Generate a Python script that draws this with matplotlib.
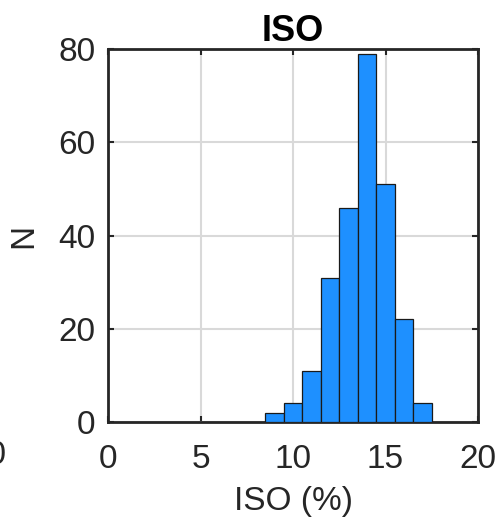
import numpy as np
import matplotlib.pyplot as plt

# histogram data (bin edges and counts)
kenarlar = [8.5, 9.5, 10.5, 11.5, 12.5, 13.5, 14.5, 15.5, 16.5, 17.5]
sayilar = [2, 4, 11, 31, 46, 79, 51, 22, 4]
x_ticks = [0, 5, 10, 15, 20]
y_ticks = [0, 20, 40, 60, 80]

plt.rcParams['font.family'] = ['Liberation Sans', 'DejaVu Sans']

fig = plt.figure(figsize=(5, 5.2), dpi=100)
ax = fig.add_axes([0.216, 0.1885, 0.74, 0.717])

genislik = np.diff(kenarlar)
ax.bar(kenarlar[:-1], sayilar, width=genislik, align='edge',
       color='#1E90FF', edgecolor='#1a1a1a', linewidth=0.9, zorder=3)

ax.set_xlim(0, 20)
ax.set_ylim(0, 80)
ax.set_xticks(x_ticks)
ax.set_yticks(y_ticks)
ax.grid(True, color='#d9d9d9', linewidth=1.5, zorder=0)
ax.tick_params(direction='in', length=4, width=1.5, labelsize=24,
               colors='#262626', top=True, right=True)
ax.tick_params(axis='x', pad=16)
ax.tick_params(axis='y', pad=9)
for s in ax.spines.values():
    s.set_linewidth(2)
    s.set_color('#262626')

ax.set_title("ISO", fontsize=26, fontweight='bold', pad=6, color='black')
ax.set_xlabel("ISO (%)", fontsize=24, color='#262626', labelpad=8)
ax.set_ylabel("N", fontsize=24, color='#262626', labelpad=14)

# tick label of neighbouring panel, cut at the left edge
fig.text(0.012, 1 - 455 / 520, "20", fontsize=24, color='#262626',
         ha='right', va='center')

fig.savefig("out.png", dpi=100)
